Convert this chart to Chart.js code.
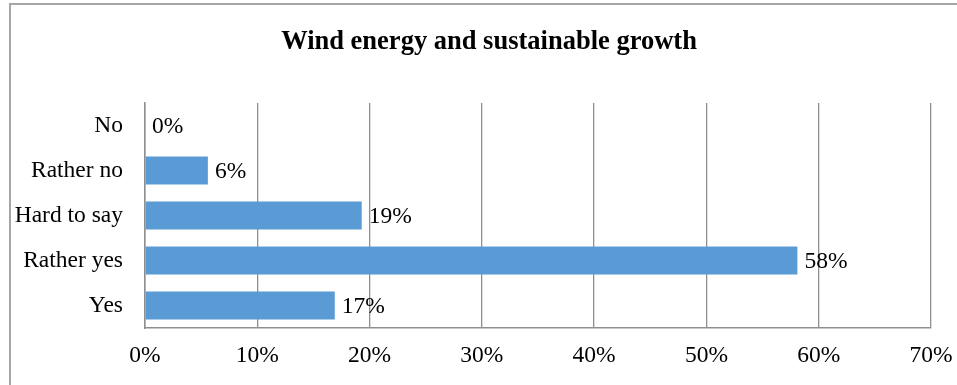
<!DOCTYPE html>
<html>
<head>
<meta charset="utf-8">
<script src="https://cdn.jsdelivr.net/npm/chart.js@4"></script>
<style>
  html, body { margin: 0; padding: 0; background: #fff; }
  #wrap { position: relative; width: 957px; height: 385px; overflow: hidden; }
  #frame {
    position: absolute; left: 9px; top: 3px; width: 1000px; height: 400px;
    border-top: 2px solid #a6a6a6; border-left: 2px solid #a6a6a6;
    pointer-events: none;
  }
  canvas { position: absolute; left: 0; top: 0; }
</style>
</head>
<body>
<div id="wrap">
  <canvas id="chart" width="957" height="385"></canvas>
  <div id="frame"></div>
</div>
<script>
// answers, top to bottom as in the picture
const categories = ["No", "Rather no", "Hard to say", "Rather yes", "Yes"];
// share of respondents, % (bar lengths)
const shares = [0, 5.6, 19.3, 58.1, 16.9];
const xTicks = [0, 10, 20, 30, 40, 50, 60, 70];
const chartTitle = "Wind energy and sustainable growth";

const serif = "'Liberation Serif', 'Times New Roman', serif";

// title sits centred on the frame, not on the canvas, so draw it here
const titlePlugin = {
  id: "titleText",
  afterDraw(chart) {
    const ctx = chart.ctx;
    ctx.save();
    ctx.font = "bold 26.5px " + serif;
    ctx.fillStyle = "#000";
    ctx.textAlign = "center";
    ctx.textBaseline = "middle";
    ctx.fillText(chartTitle, 489, 42);
    ctx.restore();
  },
};

// writes the value next to the end of each bar
const valueLabels = {
  id: "valueLabels",
  afterDatasetsDraw(chart) {
    const ctx = chart.ctx;
    const meta = chart.getDatasetMeta(0);
    ctx.save();
    ctx.font = "23.5px " + serif;
    ctx.fillStyle = "#000";
    ctx.textAlign = "left";
    ctx.textBaseline = "middle";
    meta.data.forEach((bar, i) => {
      ctx.fillText(Math.round(shares[i]) + "%", bar.x + 7, bar.y + 1);
    });
    ctx.restore();
  },
};

new Chart(document.getElementById("chart"), {
  type: "bar",
  data: {
    labels: categories,
    datasets: [
      {
        data: shares,
        backgroundColor: "#5b9bd5",
        borderWidth: 0,
        barPercentage: 0.62,
        categoryPercentage: 1,
      },
    ],
  },
  options: {
    indexAxis: "y",
    responsive: false,
    animation: false,
    layout: { padding: { left: 0, right: 26, top: 103, bottom: 0 } },
    scales: {
      x: {
        min: 0,
        max: 70,
        afterBuildTicks: (scale) => {
          scale.ticks = xTicks.map((v) => ({ value: v }));
        },
        afterFit: (scale) => {
          scale.height = 57;
          scale.paddingLeft = 0;
          scale.paddingRight = 0;
        },
        ticks: {
          padding: 14,
          color: "#000",
          font: { family: serif, size: 23.5 },
          callback: (v) => v + "%",
          maxRotation: 0,
        },
        grid: { color: "#8f8f8f", lineWidth: 1.3, drawTicks: false },
        border: { color: "#8f8f8f", width: 1.5 },
      },
      y: {
        afterFit: (scale) => {
          scale.width = 145;
          scale.paddingTop = 0;
          scale.paddingBottom = 0;
        },
        ticks: {
          padding: 22,
          color: "#000",
          font: { family: serif, size: 23.5 },
        },
        grid: { display: false, drawTicks: false },
        border: { color: "#8f8f8f", width: 1.5 },
      },
    },
    plugins: {
      legend: { display: false },
      tooltip: { enabled: false },
      title: { display: false },
    },
  },
  plugins: [valueLabels, titlePlugin],
});
</script>
</body>
</html>
